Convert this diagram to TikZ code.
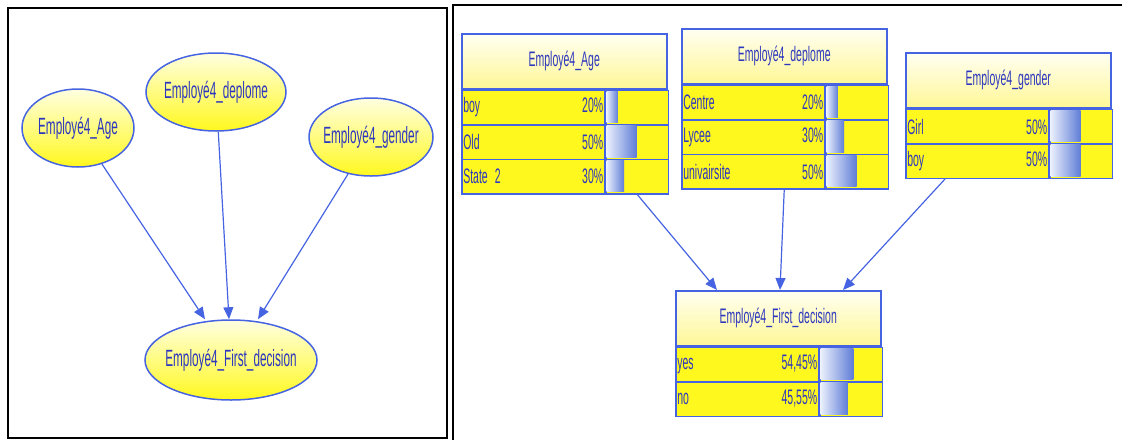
\documentclass[tikz,border=0pt]{standalone}
\usepackage{fontspec}
\setmainfont[FakeStretch=0.5]{Liberation Sans}
\usetikzlibrary{shapes.geometric, arrows.meta, calc}

\definecolor{bnblue}{RGB}{70,100,225}
\definecolor{bntext}{RGB}{45,55,190}
\definecolor{nodetop}{RGB}{255,255,225}
\definecolor{rowyel}{RGB}{255,248,30}
\definecolor{hdtop}{RGB}{255,255,242}
\definecolor{hdbot}{RGB}{255,247,150}
\definecolor{barlight}{RGB}{235,240,252}
\definecolor{barblue}{RGB}{95,125,215}

\newcommand{\cptfont}{\fontsize{21}{24}\selectfont}

\tikzset{
  bnnode/.style={ellipse, draw=bnblue, line width=1.5pt, top color=nodetop, bottom color=rowyel,
    text=bntext, font=\fontsize{23.5}{26}\selectfont, inner xsep=-6pt, inner ysep=0pt, minimum height=78pt},
  link/.style={bnblue, line width=1.2pt, -{Triangle[width=10pt,length=12pt]}},
  panel/.style={black, line width=2pt},
  tabhead/.style={rectangle, draw=bnblue, line width=1.5pt, top color=hdtop, bottom color=hdbot,
    text=bntext, font=\cptfont, minimum width=205pt, minimum height=55pt, inner sep=0pt, anchor=north west},
  tabrow/.style={rectangle, draw=bnblue, line width=1.5pt, fill=rowyel, text=bntext, font=\cptfont,
    text width=140pt, inner xsep=1.5pt, inner ysep=0pt, minimum height=34.5pt, anchor=north west},
  tabbar/.style={rectangle, draw=bnblue, line width=1.5pt, fill=rowyel, minimum width=62pt,
    minimum height=34.5pt, inner sep=0pt, anchor=north west},
  barfill/.style={left color=barlight, right color=barblue}
}

\begin{document}
\begin{tikzpicture}[x=1pt, y=-1pt]
  \useasboundingbox (0,0) rectangle (1122,440);

  % Panels
  \draw[panel] (8,8) rectangle (447,438);
  \draw[panel] (453,440) -- (453,5) -- (1122,5);

  % Network (left)
  \node[bnnode, minimum width=112pt] (age) at (78,128) {Employé4\_Age};
  \node[bnnode, minimum width=140pt] (dep) at (216,92) {Employé4\_deplome};
  \node[bnnode, minimum width=124pt] (gen) at (371,137) {Employé4\_gender};
  \node[bnnode, minimum width=172pt, minimum height=80pt] (fd) at (231,360) {Employé4\_First\_decision};

  \coordinate (fdA) at ([xshift=-26pt]fd.north);
  \coordinate (fdB) at ([xshift=-2pt]fd.north);
  \coordinate (fdC) at ([xshift=27pt]fd.north);
  \draw[link] (age) -- (fdA);
  \draw[link] (dep) -- (fdB);
  \draw[link] (gen) -- (fdC);

  % Monitors (right)
  \node[tabhead] (ageT) at (461,33) {Employé4\_Age};
  \foreach \lab/\val/\p [count=\i] in {boy/20/0.2, Old/50/0.5, State 2/30/0.3} {
    \node[tabrow] (ageT-\i) at ($(ageT.south west)+(0,{(\i-1)*34.5})$) {\lab\hfill\val\%};
    \node[tabbar] (ageT-b\i) at (ageT-\i.north east) {};
    \shade[barfill] ([shift={(1,1.5)}]ageT-b\i.north west) rectangle ++({\p*62-1},31.5);
  }

  \node[tabhead] (depT) at (681,28) {Employé4\_deplome};
  \foreach \lab/\val/\p [count=\i] in {Centre/20/0.2, Lycee/30/0.3, univairsite/50/0.5} {
    \node[tabrow] (depT-\i) at ($(depT.south west)+(0,{(\i-1)*34.5})$) {\lab\hfill\val\%};
    \node[tabbar] (depT-b\i) at (depT-\i.north east) {};
    \shade[barfill] ([shift={(1,1.5)}]depT-b\i.north west) rectangle ++({\p*62-1},31.5);
  }

  \node[tabhead] (genT) at (905,52) {Employé4\_gender};
  \foreach \lab/\val/\p [count=\i] in {Girl/50/0.5, boy/50/0.5} {
    \node[tabrow] (genT-\i) at ($(genT.south west)+(0,{(\i-1)*34.5})$) {\lab\hfill\val\%};
    \node[tabbar] (genT-b\i) at (genT-\i.north east) {};
    \shade[barfill] ([shift={(1,1.5)}]genT-b\i.north west) rectangle ++({\p*62-1},31.5);
  }

  \node[tabhead] (decT) at (675,290) {Employé4\_First\_decision};
  \foreach \lab/\val/\p [count=\i] in {yes/{54,45}/0.5445, no/{45,55}/0.4555} {
    \node[tabrow] (decT-\i) at ($(decT.south west)+(0,{(\i-1)*34.5})$) {\lab\hfill\val\%};
    \node[tabbar] (decT-b\i) at (decT-\i.north east) {};
    \shade[barfill] ([shift={(1,1.5)}]decT-b\i.north west) rectangle ++({\p*62-1},31.5);
  }

  \coordinate (depOut) at (depT.center |- depT-3.south);
  \coordinate (genOut) at ([xshift=40pt]genT-2.south west);
  \coordinate (decA) at ([xshift=42pt]decT.north west);
  \coordinate (decB) at ([xshift=105pt]decT.north west);
  \coordinate (decC) at ([xshift=168pt]decT.north west);
  \draw[link] (ageT-b3.south) -- (decA);
  \draw[link] (depOut) -- (decB);
  \draw[link] (genOut) -- (decC);
\end{tikzpicture}
\end{document}
